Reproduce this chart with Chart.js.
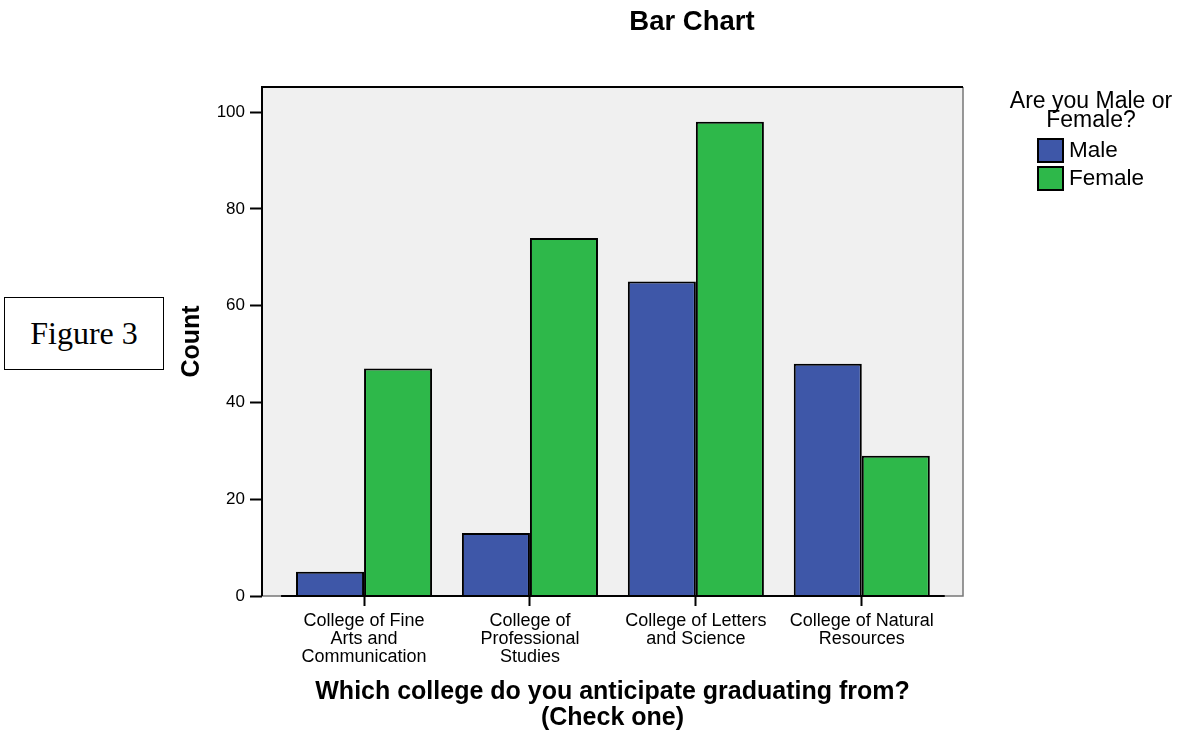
<!DOCTYPE html>
<html>
<head>
<meta charset="utf-8">
<script src="https://cdn.jsdelivr.net/npm/chart.js@4/dist/chart.umd.min.js"></script>
<style>
  html, body { margin: 0; padding: 0; background: #fff; overflow: hidden; }
  body { width: 1180px; height: 732px; position: relative; }
  #wrap { position: absolute; left: 174px; top: 0; width: 1036px; height: 732px; }
  #figbox {
    position: absolute; left: 4px; top: 297px; width: 158px; height: 71px;
    border: 1px solid #000; font-family: "Liberation Serif", serif; font-size: 32px;
    display: flex; align-items: center; justify-content: center;
  }
</style>
</head>
<body>
<div id="figbox">Figure 3</div>
<div id="wrap"><canvas id="myChart" width="1036" height="732"></canvas></div>
<script>
// datos
const colleges = [
  ["College of Fine", "Arts and", "Communication"],
  ["College of", "Professional", "Studies"],
  ["College of Letters", "and Science"],
  ["College of Natural", "Resources"]
];
const genders = ["Male", "Female"];
const maleCounts = [5, 13, 65, 48];
const femaleCounts = [47, 74, 98, 29];
const countTicks = [0, 20, 40, 60, 80, 100];

const blue = "#3E57A8";
const green = "#2EB84A";
const sans = "'Liberation Sans', Arial, sans-serif";

// fondo gris y marco del area de datos
const framePlugin = {
  id: "frame",
  beforeDraw(chart) {
    const { ctx, chartArea: a } = chart;
    ctx.save();
    ctx.fillStyle = "#F0F0F0";
    ctx.fillRect(a.left, a.top, a.right - a.left, a.bottom - a.top);
    ctx.restore();
  },
  afterDatasetsDraw(chart) {
    const { ctx, chartArea: a } = chart;
    const x = chart.scales.x;
    ctx.save();
    // derecha y abajo en gris
    ctx.strokeStyle = "#777";
    ctx.lineWidth = 1.5;
    ctx.beginPath();
    ctx.moveTo(a.right, a.top);
    ctx.lineTo(a.right, a.bottom);
    ctx.lineTo(a.left, a.bottom);
    ctx.stroke();
    // arriba e izquierda en negro
    ctx.strokeStyle = "#000";
    ctx.lineWidth = 2;
    ctx.beginPath();
    ctx.moveTo(a.left, a.bottom);
    ctx.lineTo(a.left, a.top);
    ctx.lineTo(a.right, a.top);
    ctx.stroke();
    // linea base
    ctx.beginPath();
    ctx.moveTo(x.getPixelForValue(-0.5), a.bottom);
    ctx.lineTo(x.getPixelForValue(colleges.length - 0.5), a.bottom);
    ctx.stroke();
    ctx.restore();
  }
};

// leyenda estilo SPSS
const legendPlugin = {
  id: "spssLegend",
  afterDraw(chart) {
    const { ctx } = chart;
    ctx.save();
    ctx.font = "23px " + sans;
    ctx.fillStyle = "#000";
    ctx.textBaseline = "middle";
    ctx.textAlign = "center";
    ctx.fillText("Are you Male or", 917, 102);
    ctx.fillText("Female?", 917, 121);
    ctx.font = "22.5px " + sans;
    ctx.textAlign = "left";
    chart.data.datasets.forEach((ds, i) => {
      const y = 139 + i * 28;
      ctx.fillStyle = ds.backgroundColor;
      ctx.fillRect(864, y, 25, 23);
      ctx.strokeStyle = "#000";
      ctx.lineWidth = 2;
      ctx.strokeRect(864, y, 25, 23);
      ctx.fillStyle = "#000";
      ctx.fillText(ds.label, 895, y + 12);
    });
    ctx.restore();
  }
};

const ctx = document.getElementById("myChart").getContext("2d");

const chart = new Chart(ctx, {
  type: "bar",
  data: {
    datasets: [
      {
        label: genders[0],
        data: maleCounts.map((v, i) => ({ x: i, y: v })),
        backgroundColor: blue,
        borderColor: "#000",
        borderWidth: 2
      },
      {
        label: genders[1],
        data: femaleCounts.map((v, i) => ({ x: i, y: v })),
        backgroundColor: green,
        borderColor: "#000",
        borderWidth: 2
      }
    ]
  },
  options: {
    responsive: false,
    animation: false,
    devicePixelRatio: 1,
    categoryPercentage: 0.82,
    barPercentage: 1,
    layout: { padding: 0 },
    plugins: {
      legend: { display: false },
      tooltip: { enabled: false },
      title: {
        display: true,
        text: "Bar Chart",
        color: "#000",
        font: { family: sans, size: 27.5, weight: "bold", lineHeight: 1.2 },
        padding: { top: 6, bottom: 48 }
      }
    },
    scales: {
      x: {
        type: "linear",
        offset: false,
        min: -0.615,
        max: 3.61,
        afterBuildTicks: (scale) => {
          scale.ticks = colleges.map((c, i) => ({ value: i }));
        },
        afterFit: (scale) => { scale.height = 136; },
        ticks: {
          autoSkip: false,
          maxRotation: 0,
          padding: 6,
          color: "#000",
          font: { family: sans, size: 18, lineHeight: "18px" },
          callback: (value) => colleges[value]
        },
        grid: {
          offset: false,
          drawOnChartArea: false,
          drawTicks: true,
          tickLength: 10,
          tickColor: "#000",
          tickWidth: 2
        },
        border: { display: false },
        title: {
          display: true,
          text: ["Which college do you anticipate graduating from?", "(Check one)"],
          color: "#000",
          font: { family: sans, size: 25, weight: "bold", lineHeight: "26px" },
          padding: { top: 0, bottom: 1 }
        }
      },
      y: {
        min: 0,
        max: 105.2,
        afterBuildTicks: (scale) => {
          scale.ticks = countTicks.map(v => ({ value: v }));
        },
        afterFit: (scale) => { scale.width = 88; },
        ticks: {
          padding: 5,
          color: "#000",
          font: { family: sans, size: 17 }
        },
        grid: {
          drawOnChartArea: false,
          drawTicks: true,
          tickLength: 12,
          tickColor: "#000",
          tickWidth: 2
        },
        border: { display: false },
        title: {
          display: true,
          text: "Count",
          color: "#000",
          font: { family: sans, size: 25, weight: "bold", lineHeight: 1.2 },
          padding: { top: 3, bottom: 0 }
        }
      },
      // espacio para la leyenda a la derecha
      legendSpace: {
        type: "linear",
        position: "right",
        display: true,
        ticks: { display: false },
        grid: { display: false },
        border: { display: false },
        afterFit: (scale) => { scale.width = 247; }
      }
    }
  },
  plugins: [framePlugin, legendPlugin]
});
</script>
</body>
</html>
